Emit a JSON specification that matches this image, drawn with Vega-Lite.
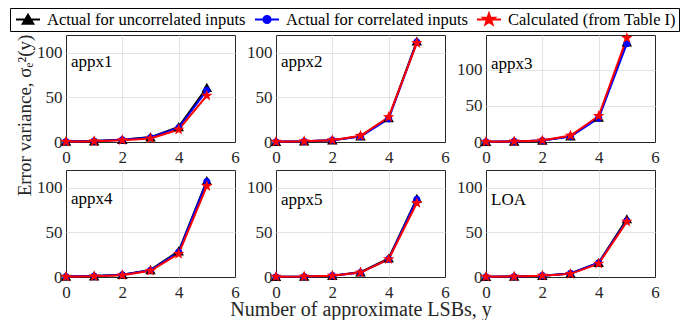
{
  "$schema": "https://vega.github.io/schema/vega-lite/v6.json",
  "background": "white",
  "padding": {"left": 9, "top": 7, "right": 0, "bottom": 0},
  "bounds": "flush",
  "columns": 3,
  "spacing": {"row": 28, "column": 41},
  "data": {"values": [
    {"panel": "appx1", "series": "Actual for uncorrelated inputs", "lsb": 0, "variance": 0.5},
    {"panel": "appx1", "series": "Actual for uncorrelated inputs", "lsb": 1, "variance": 1.0},
    {"panel": "appx1", "series": "Actual for uncorrelated inputs", "lsb": 2, "variance": 2.5},
    {"panel": "appx1", "series": "Actual for uncorrelated inputs", "lsb": 3, "variance": 5.5},
    {"panel": "appx1", "series": "Actual for uncorrelated inputs", "lsb": 4, "variance": 17},
    {"panel": "appx1", "series": "Actual for uncorrelated inputs", "lsb": 5, "variance": 61},
    {"panel": "appx1", "series": "Actual for correlated inputs", "lsb": 0, "variance": 0.5},
    {"panel": "appx1", "series": "Actual for correlated inputs", "lsb": 1, "variance": 1.0},
    {"panel": "appx1", "series": "Actual for correlated inputs", "lsb": 2, "variance": 2.5},
    {"panel": "appx1", "series": "Actual for correlated inputs", "lsb": 3, "variance": 5.0},
    {"panel": "appx1", "series": "Actual for correlated inputs", "lsb": 4, "variance": 16},
    {"panel": "appx1", "series": "Actual for correlated inputs", "lsb": 5, "variance": 58},
    {"panel": "appx1", "series": "Calculated (from Table I)", "lsb": 0, "variance": 0.3},
    {"panel": "appx1", "series": "Calculated (from Table I)", "lsb": 1, "variance": 0.8},
    {"panel": "appx1", "series": "Calculated (from Table I)", "lsb": 2, "variance": 2.0},
    {"panel": "appx1", "series": "Calculated (from Table I)", "lsb": 3, "variance": 4.0},
    {"panel": "appx1", "series": "Calculated (from Table I)", "lsb": 4, "variance": 14},
    {"panel": "appx1", "series": "Calculated (from Table I)", "lsb": 5, "variance": 52},

    {"panel": "appx2", "series": "Actual for uncorrelated inputs", "lsb": 0, "variance": 0.3},
    {"panel": "appx2", "series": "Actual for uncorrelated inputs", "lsb": 1, "variance": 0.8},
    {"panel": "appx2", "series": "Actual for uncorrelated inputs", "lsb": 2, "variance": 2.0},
    {"panel": "appx2", "series": "Actual for uncorrelated inputs", "lsb": 3, "variance": 6.5},
    {"panel": "appx2", "series": "Actual for uncorrelated inputs", "lsb": 4, "variance": 27},
    {"panel": "appx2", "series": "Actual for uncorrelated inputs", "lsb": 5, "variance": 113},
    {"panel": "appx2", "series": "Actual for correlated inputs", "lsb": 0, "variance": 0.3},
    {"panel": "appx2", "series": "Actual for correlated inputs", "lsb": 1, "variance": 0.8},
    {"panel": "appx2", "series": "Actual for correlated inputs", "lsb": 2, "variance": 2.0},
    {"panel": "appx2", "series": "Actual for correlated inputs", "lsb": 3, "variance": 6.0},
    {"panel": "appx2", "series": "Actual for correlated inputs", "lsb": 4, "variance": 26},
    {"panel": "appx2", "series": "Actual for correlated inputs", "lsb": 5, "variance": 112},
    {"panel": "appx2", "series": "Calculated (from Table I)", "lsb": 0, "variance": 0.3},
    {"panel": "appx2", "series": "Calculated (from Table I)", "lsb": 1, "variance": 0.8},
    {"panel": "appx2", "series": "Calculated (from Table I)", "lsb": 2, "variance": 2.0},
    {"panel": "appx2", "series": "Calculated (from Table I)", "lsb": 3, "variance": 7.0},
    {"panel": "appx2", "series": "Calculated (from Table I)", "lsb": 4, "variance": 28},
    {"panel": "appx2", "series": "Calculated (from Table I)", "lsb": 5, "variance": 111},

    {"panel": "appx3", "series": "Actual for uncorrelated inputs", "lsb": 0, "variance": 0.3},
    {"panel": "appx3", "series": "Actual for uncorrelated inputs", "lsb": 1, "variance": 0.8},
    {"panel": "appx3", "series": "Actual for uncorrelated inputs", "lsb": 2, "variance": 2.0},
    {"panel": "appx3", "series": "Actual for uncorrelated inputs", "lsb": 3, "variance": 8.0},
    {"panel": "appx3", "series": "Actual for uncorrelated inputs", "lsb": 4, "variance": 34},
    {"panel": "appx3", "series": "Actual for uncorrelated inputs", "lsb": 5, "variance": 138},
    {"panel": "appx3", "series": "Actual for correlated inputs", "lsb": 0, "variance": 0.3},
    {"panel": "appx3", "series": "Actual for correlated inputs", "lsb": 1, "variance": 0.8},
    {"panel": "appx3", "series": "Actual for correlated inputs", "lsb": 2, "variance": 2.0},
    {"panel": "appx3", "series": "Actual for correlated inputs", "lsb": 3, "variance": 7.5},
    {"panel": "appx3", "series": "Actual for correlated inputs", "lsb": 4, "variance": 33},
    {"panel": "appx3", "series": "Actual for correlated inputs", "lsb": 5, "variance": 136},
    {"panel": "appx3", "series": "Calculated (from Table I)", "lsb": 0, "variance": 0.3},
    {"panel": "appx3", "series": "Calculated (from Table I)", "lsb": 1, "variance": 0.8},
    {"panel": "appx3", "series": "Calculated (from Table I)", "lsb": 2, "variance": 2.2},
    {"panel": "appx3", "series": "Calculated (from Table I)", "lsb": 3, "variance": 9.0},
    {"panel": "appx3", "series": "Calculated (from Table I)", "lsb": 4, "variance": 36},
    {"panel": "appx3", "series": "Calculated (from Table I)", "lsb": 5, "variance": 144},

    {"panel": "appx4", "series": "Actual for uncorrelated inputs", "lsb": 0, "variance": 0.5},
    {"panel": "appx4", "series": "Actual for uncorrelated inputs", "lsb": 1, "variance": 1.0},
    {"panel": "appx4", "series": "Actual for uncorrelated inputs", "lsb": 2, "variance": 2.5},
    {"panel": "appx4", "series": "Actual for uncorrelated inputs", "lsb": 3, "variance": 8.0},
    {"panel": "appx4", "series": "Actual for uncorrelated inputs", "lsb": 4, "variance": 29},
    {"panel": "appx4", "series": "Actual for uncorrelated inputs", "lsb": 5, "variance": 108},
    {"panel": "appx4", "series": "Actual for correlated inputs", "lsb": 0, "variance": 0.5},
    {"panel": "appx4", "series": "Actual for correlated inputs", "lsb": 1, "variance": 1.0},
    {"panel": "appx4", "series": "Actual for correlated inputs", "lsb": 2, "variance": 2.5},
    {"panel": "appx4", "series": "Actual for correlated inputs", "lsb": 3, "variance": 7.5},
    {"panel": "appx4", "series": "Actual for correlated inputs", "lsb": 4, "variance": 28},
    {"panel": "appx4", "series": "Actual for correlated inputs", "lsb": 5, "variance": 107},
    {"panel": "appx4", "series": "Calculated (from Table I)", "lsb": 0, "variance": 0.3},
    {"panel": "appx4", "series": "Calculated (from Table I)", "lsb": 1, "variance": 0.8},
    {"panel": "appx4", "series": "Calculated (from Table I)", "lsb": 2, "variance": 2.0},
    {"panel": "appx4", "series": "Calculated (from Table I)", "lsb": 3, "variance": 7.0},
    {"panel": "appx4", "series": "Calculated (from Table I)", "lsb": 4, "variance": 26},
    {"panel": "appx4", "series": "Calculated (from Table I)", "lsb": 5, "variance": 102},

    {"panel": "appx5", "series": "Actual for uncorrelated inputs", "lsb": 0, "variance": 0.3},
    {"panel": "appx5", "series": "Actual for uncorrelated inputs", "lsb": 1, "variance": 0.5},
    {"panel": "appx5", "series": "Actual for uncorrelated inputs", "lsb": 2, "variance": 1.5},
    {"panel": "appx5", "series": "Actual for uncorrelated inputs", "lsb": 3, "variance": 5.5},
    {"panel": "appx5", "series": "Actual for uncorrelated inputs", "lsb": 4, "variance": 21},
    {"panel": "appx5", "series": "Actual for uncorrelated inputs", "lsb": 5, "variance": 88},
    {"panel": "appx5", "series": "Actual for correlated inputs", "lsb": 0, "variance": 0.3},
    {"panel": "appx5", "series": "Actual for correlated inputs", "lsb": 1, "variance": 0.5},
    {"panel": "appx5", "series": "Actual for correlated inputs", "lsb": 2, "variance": 1.5},
    {"panel": "appx5", "series": "Actual for correlated inputs", "lsb": 3, "variance": 5.0},
    {"panel": "appx5", "series": "Actual for correlated inputs", "lsb": 4, "variance": 20},
    {"panel": "appx5", "series": "Actual for correlated inputs", "lsb": 5, "variance": 87},
    {"panel": "appx5", "series": "Calculated (from Table I)", "lsb": 0, "variance": 0.3},
    {"panel": "appx5", "series": "Calculated (from Table I)", "lsb": 1, "variance": 0.5},
    {"panel": "appx5", "series": "Calculated (from Table I)", "lsb": 2, "variance": 1.5},
    {"panel": "appx5", "series": "Calculated (from Table I)", "lsb": 3, "variance": 5.0},
    {"panel": "appx5", "series": "Calculated (from Table I)", "lsb": 4, "variance": 20},
    {"panel": "appx5", "series": "Calculated (from Table I)", "lsb": 5, "variance": 83},

    {"panel": "LOA", "series": "Actual for uncorrelated inputs", "lsb": 0, "variance": 0.3},
    {"panel": "LOA", "series": "Actual for uncorrelated inputs", "lsb": 1, "variance": 0.5},
    {"panel": "LOA", "series": "Actual for uncorrelated inputs", "lsb": 2, "variance": 1.5},
    {"panel": "LOA", "series": "Actual for uncorrelated inputs", "lsb": 3, "variance": 4.0},
    {"panel": "LOA", "series": "Actual for uncorrelated inputs", "lsb": 4, "variance": 16},
    {"panel": "LOA", "series": "Actual for uncorrelated inputs", "lsb": 5, "variance": 65},
    {"panel": "LOA", "series": "Actual for correlated inputs", "lsb": 0, "variance": 0.3},
    {"panel": "LOA", "series": "Actual for correlated inputs", "lsb": 1, "variance": 0.5},
    {"panel": "LOA", "series": "Actual for correlated inputs", "lsb": 2, "variance": 1.5},
    {"panel": "LOA", "series": "Actual for correlated inputs", "lsb": 3, "variance": 4.0},
    {"panel": "LOA", "series": "Actual for correlated inputs", "lsb": 4, "variance": 16},
    {"panel": "LOA", "series": "Actual for correlated inputs", "lsb": 5, "variance": 63},
    {"panel": "LOA", "series": "Calculated (from Table I)", "lsb": 0, "variance": 0.3},
    {"panel": "LOA", "series": "Calculated (from Table I)", "lsb": 1, "variance": 0.5},
    {"panel": "LOA", "series": "Calculated (from Table I)", "lsb": 2, "variance": 1.5},
    {"panel": "LOA", "series": "Calculated (from Table I)", "lsb": 3, "variance": 3.5},
    {"panel": "LOA", "series": "Calculated (from Table I)", "lsb": 4, "variance": 15},
    {"panel": "LOA", "series": "Calculated (from Table I)", "lsb": 5, "variance": 62}
  ]},
  "concat": [
    {
      "width": 169, "height": 107,
      "title": {"text": "appx1", "offset": -37},
      "transform": [{"filter": "datum.panel === 'appx1'"}],
      "encoding": {
        "x": {"field": "lsb", "type": "quantitative", "scale": {"domain": [0, 6], "nice": false}, "axis": {"values": [0, 2, 4, 6], "title": null}},
        "y": {"field": "variance", "type": "quantitative", "scale": {"domain": [0, 120], "nice": false}, "axis": {"values": [0, 50, 100], "title": "Error variance, σₑ²(y)", "titleY": 80, "titlePadding": 2, "titleFontSize": 19}}
      },
      "layer": [
        {"mark": {"type": "line", "strokeWidth": 2}, "encoding": {"color": {"field": "series", "type": "nominal"}}},
        {"mark": {"type": "point", "filled": true, "opacity": 1, "size": 576},
         "encoding": {
           "color": {"field": "series", "type": "nominal",
             "scale": {"domain": ["Actual for uncorrelated inputs", "Actual for correlated inputs", "Calculated (from Table I)"], "range": ["#000000", "#0000ff", "#ff0000"]},
             "legend": {"orient": "none", "legendX": -56, "legendY": -27, "direction": "horizontal", "title": null, "strokeColor": "#000000", "fillColor": "white", "padding": 3, "labelFont": "Liberation Serif", "labelFontSize": 16.5, "labelColor": "#000000", "labelOffset": 6, "columnPadding": 6, "symbolSize": 576, "symbolStrokeWidth": 2, "symbolOffset": 2, "clipHeight": 17, "labelLimit": 0,
               "encode": {"symbols": {"update": {"stroke": {"scale": "color", "field": "value"}, "strokeWidth": {"value": 2}, "opacity": {"value": 1}}}}}},
           "shape": {"field": "series", "type": "nominal",
             "scale": {"domain": ["Actual for uncorrelated inputs", "Actual for correlated inputs", "Calculated (from Table I)"],
               "range": ["M-1,0H1M0,-0.4L0.44,0.36L-0.44,0.36Z", "M-1,0H1M0.3,0A0.3,0.3 0 1,1 -0.3,0A0.3,0.3 0 1,1 0.3,0Z", "M-1,0H1M0,-0.5L0.118,-0.162L0.476,-0.155L0.19,0.062L0.294,0.405L0,0.2L-0.294,0.405L-0.19,0.062L-0.476,-0.155L-0.118,-0.162Z"]}}
         }}
      ]
    },
    {
      "width": 169, "height": 107,
      "title": {"text": "appx2", "offset": -36},
      "transform": [{"filter": "datum.panel === 'appx2'"}],
      "encoding": {
        "x": {"field": "lsb", "type": "quantitative", "scale": {"domain": [0, 6], "nice": false}, "axis": {"values": [0, 2, 4, 6], "title": null}},
        "y": {"field": "variance", "type": "quantitative", "scale": {"domain": [0, 120], "nice": false}, "axis": {"values": [0, 50, 100], "title": null}}
      },
      "layer": [
        {"mark": {"type": "line", "strokeWidth": 2}, "encoding": {"color": {"field": "series", "type": "nominal"}}},
        {"mark": {"type": "point", "filled": true, "opacity": 1, "size": 576},
         "encoding": {"color": {"field": "series", "type": "nominal"}, "shape": {"field": "series", "type": "nominal"}}}
      ]
    },
    {
      "width": 169, "height": 107,
      "title": {"text": "appx3", "offset": -41},
      "transform": [{"filter": "datum.panel === 'appx3'"}],
      "encoding": {
        "x": {"field": "lsb", "type": "quantitative", "scale": {"domain": [0, 6], "nice": false}, "axis": {"values": [0, 2, 4, 6], "title": null}},
        "y": {"field": "variance", "type": "quantitative", "scale": {"domain": [0, 148], "nice": false}, "axis": {"values": [0, 50, 100], "title": null}}
      },
      "layer": [
        {"mark": {"type": "line", "strokeWidth": 2}, "encoding": {"color": {"field": "series", "type": "nominal"}}},
        {"mark": {"type": "point", "filled": true, "opacity": 1, "size": 576},
         "encoding": {"color": {"field": "series", "type": "nominal"}, "shape": {"field": "series", "type": "nominal"}}}
      ]
    },
    {
      "width": 169, "height": 107,
      "title": {"text": "appx4", "offset": -38},
      "transform": [{"filter": "datum.panel === 'appx4'"}],
      "encoding": {
        "x": {"field": "lsb", "type": "quantitative", "scale": {"domain": [0, 6], "nice": false}, "axis": {"values": [0, 2, 4, 6], "title": null}},
        "y": {"field": "variance", "type": "quantitative", "scale": {"domain": [0, 120], "nice": false}, "axis": {"values": [0, 50, 100], "title": null}}
      },
      "layer": [
        {"mark": {"type": "line", "strokeWidth": 2}, "encoding": {"color": {"field": "series", "type": "nominal"}}},
        {"mark": {"type": "point", "filled": true, "opacity": 1, "size": 576},
         "encoding": {"color": {"field": "series", "type": "nominal"}, "shape": {"field": "series", "type": "nominal"}}}
      ]
    },
    {
      "width": 169, "height": 107,
      "title": {"text": "appx5", "offset": -39},
      "transform": [{"filter": "datum.panel === 'appx5'"}],
      "encoding": {
        "x": {"field": "lsb", "type": "quantitative", "scale": {"domain": [0, 6], "nice": false}, "axis": {"values": [0, 2, 4, 6], "title": "Number of approximate LSBs, y", "titlePadding": -1}},
        "y": {"field": "variance", "type": "quantitative", "scale": {"domain": [0, 120], "nice": false}, "axis": {"values": [0, 50, 100], "title": null}}
      },
      "layer": [
        {"mark": {"type": "line", "strokeWidth": 2}, "encoding": {"color": {"field": "series", "type": "nominal"}}},
        {"mark": {"type": "point", "filled": true, "opacity": 1, "size": 576},
         "encoding": {"color": {"field": "series", "type": "nominal"}, "shape": {"field": "series", "type": "nominal"}}}
      ]
    },
    {
      "width": 169, "height": 107,
      "title": {"text": "LOA", "offset": -39},
      "transform": [{"filter": "datum.panel === 'LOA'"}],
      "encoding": {
        "x": {"field": "lsb", "type": "quantitative", "scale": {"domain": [0, 6], "nice": false}, "axis": {"values": [0, 2, 4, 6], "title": null}},
        "y": {"field": "variance", "type": "quantitative", "scale": {"domain": [0, 120], "nice": false}, "axis": {"values": [0, 50, 100], "title": null}}
      },
      "layer": [
        {"mark": {"type": "line", "strokeWidth": 2}, "encoding": {"color": {"field": "series", "type": "nominal"}}},
        {"mark": {"type": "point", "filled": true, "opacity": 1, "size": 576},
         "encoding": {"color": {"field": "series", "type": "nominal"}, "shape": {"field": "series", "type": "nominal"}}}
      ]
    }
  ],
  "config": {
    "font": "Liberation Serif",
    "title": {"anchor": "start", "frame": "group", "dx": 5, "baseline": "alphabetic", "font": "Liberation Serif", "fontSize": 17, "fontWeight": "normal", "color": "#000000"},
    "axis": {"labelFont": "Liberation Serif", "labelFontSize": 17, "labelColor": "#262626", "titleFont": "Liberation Serif", "titleFontSize": 20, "titleFontWeight": "normal", "titleColor": "#262626", "grid": true, "gridColor": "#e3e3e3", "gridWidth": 1, "domain": false, "ticks": false, "labelFlush": false, "labelOverlap": false},
    "axisX": {"labelPadding": 7, "gridOpacity": {"condition": {"test": "datum.value === 0 || datum.value === 6", "value": 0}, "value": 1}},
    "axisY": {"labelPadding": 4, "gridOpacity": {"condition": {"test": "datum.value === 0", "value": 0}, "value": 1}},
    "view": {"stroke": "#262626", "strokeWidth": 1}
  }
}
